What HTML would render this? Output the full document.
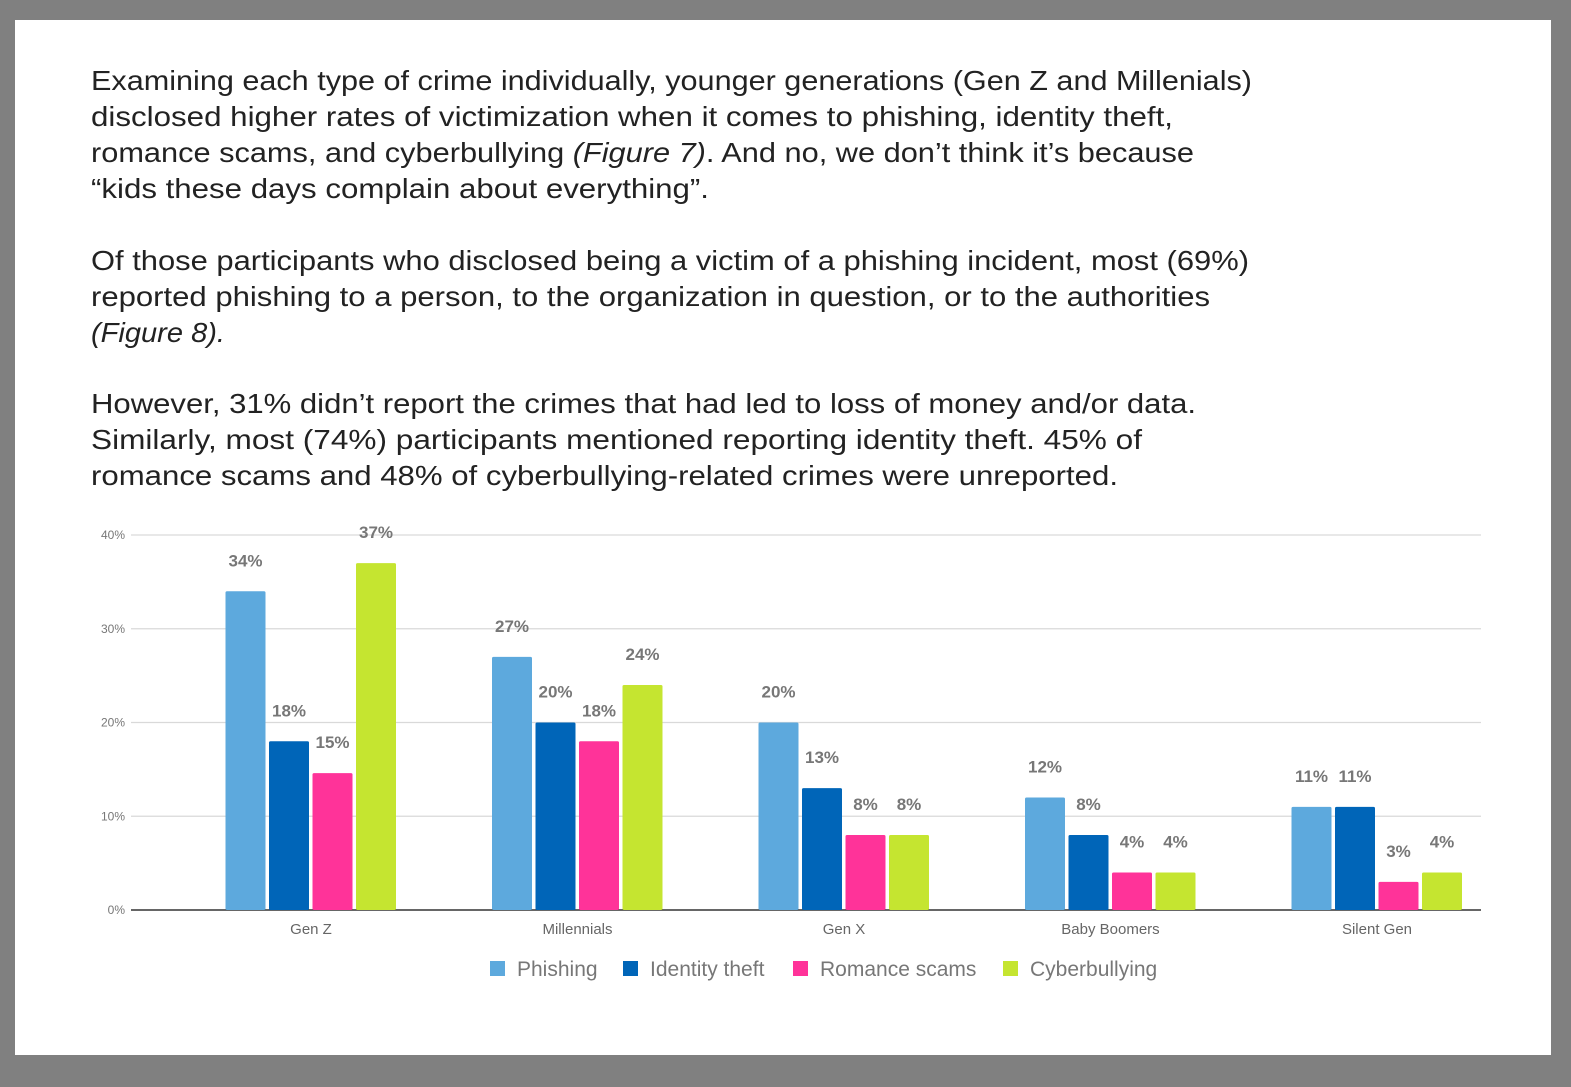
<!DOCTYPE html>
<html><head><meta charset="utf-8"><style>
body{margin:0;background:#808080;width:1571px;height:1087px;overflow:hidden;font-family:"Liberation Sans",sans-serif}
#page{position:absolute;left:15px;top:20px;width:1536px;height:1035px;background:#fff}
svg{position:absolute;left:0;top:0}
</style></head><body>
<div id="page"></div>
<svg width="1571" height="1087">
<g id="text" font-size="28" fill="#222" font-family="Liberation Sans, sans-serif">
<text x="91" y="90" textLength="1161" lengthAdjust="spacingAndGlyphs">Examining each type of crime individually, younger generations (Gen Z and Millenials)</text>
<text x="91" y="126" textLength="1082" lengthAdjust="spacingAndGlyphs">disclosed higher rates of victimization when it comes to phishing, identity theft,</text>
<text x="91" y="162" textLength="1103" lengthAdjust="spacingAndGlyphs">romance scams, and cyberbullying <tspan font-style="italic">(Figure 7)</tspan>. And no, we don’t think it’s because</text>
<text x="91" y="198" textLength="618" lengthAdjust="spacingAndGlyphs">“kids these days complain about everything”.</text>
<text x="91" y="270" textLength="1158" lengthAdjust="spacingAndGlyphs">Of those participants who disclosed being a victim of a phishing incident, most (69%)</text>
<text x="91" y="306" textLength="1119" lengthAdjust="spacingAndGlyphs">reported phishing to a person, to the organization in question, or to the authorities</text>
<text x="91" y="342" textLength="134" lengthAdjust="spacingAndGlyphs" font-style="italic">(Figure 8).</text>
<text x="91" y="413" textLength="1105" lengthAdjust="spacingAndGlyphs">However, 31% didn’t report the crimes that had led to loss of money and/or data.</text>
<text x="91" y="449" textLength="1051" lengthAdjust="spacingAndGlyphs">Similarly, most (74%) participants mentioned reporting identity theft. 45% of</text>
<text x="91" y="485" textLength="1027" lengthAdjust="spacingAndGlyphs">romance scams and 48% of cyberbullying-related crimes were unreported.</text>
</g>
<g id="chart"></g>
</svg>
<script>
const categories=["Gen Z","Millennials","Gen X","Baby Boomers","Silent Gen"];
const seriesNames=["Phishing","Identity theft","Romance scams","Cyberbullying"];
const phishing=[34,27,20,12,11];
const identity=[18,20,13,8,11];
const romance=[14.6,18,8,4,3];
const cyber=[37,24,8,4,4];
const labelsPhishing=["34%","27%","20%","12%","11%"];
const labelsIdentity=["18%","20%","13%","8%","11%"];
const labelsRomance=["15%","18%","8%","4%","3%"];
const labelsCyber=["37%","24%","8%","4%","4%"];
const yTicks=[0,10,20,30,40];
const colors=["#5da9dd","#0065b8","#ff3399","#c5e530"];
const series=[phishing,identity,romance,cyber];
const labels=[labelsPhishing,labelsIdentity,labelsRomance,labelsCyber];
const NS="http://www.w3.org/2000/svg";
const g=document.getElementById('chart');
const x0=131,x1=1481,yBase=910,yTop=535,yMax=40;
const y=v=>yBase-(v/yMax)*(yBase-yTop);
const groupW=266.5,firstCenter=311;
const gx=i=>firstCenter+groupW*i;
function el(t,a){const e=document.createElementNS(NS,t);for(const k in a)e.setAttribute(k,a[k]);g.appendChild(e);return e;}
yTicks.forEach(t=>{
 const l=el('line',{x1:x0,x2:x1,y1:y(t),y2:y(t),stroke:t===0?'#333':'#d9d9d9','stroke-width':t===0?1.5:1.2});
 
 
 const tx=el('text',{x:125,y:y(t)+4,'text-anchor':'end','font-size':12,fill:'#777'});
 tx.textContent=t+'%';
 
 
});
const bw=40,step=43.5;
categories.forEach((c,i)=>{
 series.forEach((s,j)=>{
  const bx=gx(i)-2*step+j*step+1.5;
  const r=el('rect',{x:bx,y:y(s[i]),width:bw,height:yBase-y(s[i]),fill:colors[j],rx:1.5});
  
  
  const t=el('text',{x:bx+bw/2,y:y(s[i])-25,'text-anchor':'middle','font-size':17,'font-weight':'bold',fill:'#777'});
  t.textContent=labels[j][i];
  
  
 });
 const ct=el('text',{x:gx(i),y:934,'text-anchor':'middle','font-size':15,fill:'#666'});
 ct.textContent=c;
 
 
});
const legX=[490,623,793,1003];
seriesNames.forEach((n,j)=>{
 const r=el('rect',{x:legX[j],y:961,width:15,height:15,fill:colors[j]});
 
 
 const t=el('text',{x:legX[j]+27,y:976,'font-size':21,fill:'#777'});
 t.textContent=n;
 
 
});
</script>
</body></html>
